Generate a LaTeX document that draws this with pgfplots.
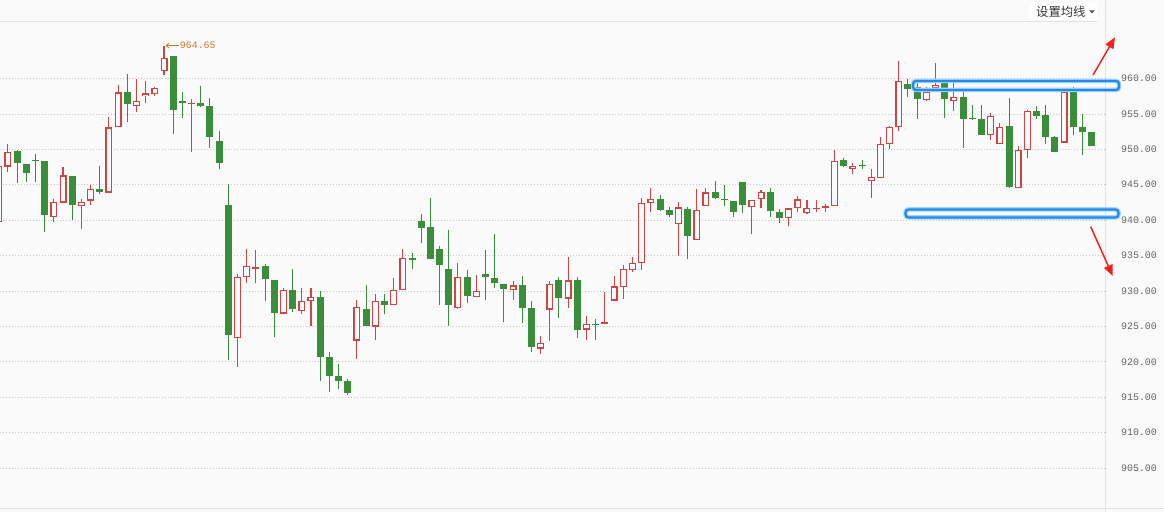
\documentclass[border=0pt]{standalone}
\usepackage{fontspec}
\usepackage{pgfplots}
\usepackage{pgfplotstable}
\pgfplotsset{compat=1.18}
\usetikzlibrary{arrows.meta}
\newfontfamily\monofont{Liberation Mono}
\newfontfamily\cjk{Noto Sans CJK SC}
\definecolor{bg}{RGB}{250,250,250}
\definecolor{cup}{RGB}{208,68,68}
\definecolor{cdown}{RGB}{58,142,58}
\definecolor{gridc}{RGB}{200,200,200}
\definecolor{framec}{RGB}{226,226,226}
\definecolor{tickc}{RGB}{100,100,100}
\definecolor{hl}{RGB}{30,140,235}
\definecolor{hlglow}{RGB}{170,210,250}
\definecolor{arrred}{RGB}{240,35,26}
\definecolor{annot}{RGB}{205,120,40}
\definecolor{headtext}{RGB}{51,51,51}
\definecolor{headtri}{RGB}{80,80,80}

% x o h l c  (rising candles, hollow red)
\pgfplotstableread{
x o h l c
0 939.70 948.00 939.50 947.65
1 947.56 950.75 946.85 949.67
6 940.38 942.96 939.80 942.54
7 942.49 947.56 942.40 946.34
9 941.97 943.00 938.78 942.63
10 942.77 944.98 942.07 944.37
12 943.90 954.50 943.90 953.10
13 953.10 959.06 953.10 958.03
15 956.06 960.00 955.20 956.85
16 957.46 959.60 956.50 957.89
17 957.75 958.80 957.60 958.73
18 961.08 964.65 960.56 962.96
21 956.39 957.04 949.67 956.57
26 923.38 932.39 919.30 931.97
27 931.97 935.96 931.13 933.52
28 933.10 935.73 931.13 933.38
31 926.78 930.42 926.78 930.14
33 927.20 930.42 926.78 928.60
34 928.60 930.42 925.05 929.16
39 922.99 928.79 920.37 927.76
41 924.95 929.63 923.08 928.60
43 927.99 931.82 927.99 930.14
44 930.14 935.93 930.14 934.63
50 927.57 933.97 927.43 931.96
52 929.16 932.24 929.16 930.00
56 930.14 931.40 928.74 930.79
59 921.87 923.69 921.10 922.71
60 927.35 931.34 922.93 931.00
62 928.90 934.86 927.58 931.48
64 924.53 926.41 923.03 925.38
66 925.33 929.83 925.30 925.60
67 928.62 932.18 928.60 930.63
68 930.59 933.73 928.85 933.12
69 932.98 934.86 932.65 933.97
70 933.97 943.08 932.98 942.42
71 942.42 944.53 941.10 942.98
74 939.46 942.50 935.00 941.80
76 937.20 944.39 937.20 941.43
77 942.00 944.53 942.00 943.92
82 941.85 942.84 938.05 942.84
83 942.98 944.25 941.67 943.97
86 940.30 941.67 939.13 941.67
87 941.71 943.40 941.10 942.93
88 940.96 942.89 940.90 941.71
89 941.60 942.89 941.10 941.71
90 941.71 942.32 941.10 942.04
91 942.00 949.90 942.00 948.40
93 947.29 948.05 946.45 947.67
95 945.46 947.25 943.06 946.07
96 945.93 951.67 945.90 950.73
97 950.73 953.32 950.02 953.13
98 953.13 962.49 952.52 959.62
101 956.99 958.78 956.85 958.12
102 958.64 962.16 958.60 959.06
104 956.80 959.44 955.39 957.36
108 952.00 955.11 951.34 954.73
109 950.73 953.69 950.73 953.13
111 944.47 950.40 944.47 949.88
112 949.88 955.58 948.75 955.39
116 950.96 958.07 950.96 958.07
}\up

% x o h l c  (falling candles, filled green)
\pgfplotstableread{
x o h l c
2 949.77 949.90 945.30 948.03
3 947.89 947.95 945.45 946.62
4 948.55 949.34 945.45 948.40
5 948.36 948.40 938.30 940.66
8 946.24 946.30 940.05 942.07
11 944.37 947.65 943.66 944.04
14 958.03 960.60 953.90 956.34
19 963.15 963.15 952.16 955.54
20 956.80 958.08 954.46 956.48
22 956.53 958.92 956.00 956.15
23 956.10 957.18 950.14 951.78
24 951.17 952.58 947.18 948.12
25 942.16 945.07 920.23 923.76
29 933.57 933.85 928.54 931.69
30 931.60 931.60 923.50 926.90
32 930.14 933.13 927.00 927.43
35 929.20 930.05 917.34 920.70
36 920.65 921.36 915.80 918.04
37 918.00 919.67 916.17 917.34
38 917.29 917.60 915.30 915.65
40 927.52 930.89 925.05 925.05
42 928.60 929.63 926.68 928.08
45 934.67 935.42 933.13 934.35
46 939.86 940.84 936.82 938.93
47 939.02 943.18 934.56 934.56
48 935.93 936.40 928.00 933.60
49 933.13 938.60 925.05 928.00
51 931.96 933.00 928.27 929.25
53 932.38 935.79 928.74 931.92
54 931.82 938.04 930.47 931.07
55 930.98 931.00 925.60 930.23
57 930.84 932.10 925.50 927.57
58 927.66 928.64 921.40 922.10
61 931.48 931.90 926.17 929.00
63 931.48 932.04 923.36 924.44
65 925.40 926.08 923.03 925.25
72 942.98 943.59 941.30 941.38
73 941.43 941.85 940.40 940.73
75 941.57 941.80 934.53 937.72
78 943.97 945.56 943.00 943.08
79 943.05 945.00 941.95 942.90
80 942.70 942.70 940.40 941.10
81 945.42 945.42 940.96 942.09
84 943.97 944.53 940.45 941.24
85 941.15 941.57 939.60 940.26
92 948.47 948.75 947.44 947.58
94 947.78 948.47 947.20 947.63
99 959.20 960.00 957.32 958.45
100 958.78 960.00 954.26 957.08
103 959.58 960.00 954.40 957.08
105 957.36 958.64 950.16 954.26
106 954.37 956.24 954.20 954.22
107 954.31 956.24 952.09 952.09
110 953.32 957.22 944.60 944.61
113 955.39 956.14 954.35 954.73
114 954.87 956.24 950.73 951.81
115 951.81 951.90 949.69 949.69
117 958.07 958.78 952.00 953.22
118 953.13 955.01 949.22 952.47
119 952.47 952.47 950.40 950.40
}\down

\begin{document}
\begin{tikzpicture}[x=1pt,y=1pt]
\fill[bg] (0,0) rectangle (1164,512);
\begin{axis}[
  at={(0pt,4pt)}, anchor=south west,
  scale only axis, width=1105pt, height=486.5pt,
  xmin=0.14, xmax=120.45, ymin=899.35, ymax=968.05,
  axis line style={draw=none},
  xtick=\empty,
  ytick={905,910,...,960},
  ytick pos=right, yticklabel pos=right,
  tick align=outside, major tick length=2pt,
  tick style={color=framec, line width=0.8pt},
  ymajorgrids,
  major grid style={line width=0.8pt, color=gridc, dash pattern=on 1pt off 2pt},
  yticklabel style={font=\fontsize{9.9}{10}\selectfont\monofont, text=tickc, anchor=west, inner sep=0pt, xshift=14pt},
  /pgf/number format/.cd, fixed, fixed zerofill, precision=2, 1000 sep={}, assume math mode=true,
]
% falling: wick + filled body
\addplot[draw=none, no markers, forget plot,
  error bars/.cd, y dir=plus, y explicit, error mark=none,
  error bar style={line width=1pt, draw=cdown, line cap=butt}]
  table[x=x, y=l, y error expr=\thisrow{h}-\thisrow{l}] {\down};
\addplot[draw=none, no markers, forget plot,
  error bars/.cd, y dir=plus, y explicit, error mark=none,
  error bar style={line width=7pt, draw=cdown, line cap=butt}]
  table[x=x, y=c, y error expr=\thisrow{o}-\thisrow{c}] {\down};
% rising: wick + hollow body
\addplot[draw=none, no markers, forget plot,
  error bars/.cd, y dir=plus, y explicit, error mark=none,
  error bar style={line width=1.1pt, draw=cup, line cap=butt}]
  table[x=x, y=l, y error expr=\thisrow{h}-\thisrow{l}] {\up};
\addplot[draw=none, no markers, forget plot,
  error bars/.cd, y dir=plus, y explicit, error mark=none,
  error bar style={line width=7pt, draw=cup, line cap=butt}]
  table[x=x, y=o, y error expr=\thisrow{c}-\thisrow{o}] {\up};
\addplot[draw=none, no markers, forget plot,
  error bars/.cd, y dir=plus, y explicit, error mark=none,
  error bar style={line width=4.5pt, draw=bg, line cap=butt}]
  table[x=x, y expr=\thisrow{o}+0.18, y error expr={max(\thisrow{c}-\thisrow{o}-0.36,0)}] {\up};
% high marker
\draw[annot, line width=0.8pt, {Straight Barb[length=3pt,width=5pt]}-] (axis cs:18,964.65) ++(1.5pt,0pt) -- ++(13.5pt,0pt)
  node[right, inner sep=0.5pt, font=\fontsize{9.9}{10}\selectfont\monofont, text=annot] {964.65};
\end{axis}
% frame lines
\draw[framec, line width=1pt] (0,490.5) -- (1097,490.5);
\draw[framec, line width=1pt] (1105.3,0) -- (1105.3,512);
\draw[framec, line width=1pt] (0,4) -- (1164,4);
% header
\fill[white] (1030,492) rectangle (1097,510);
\node[anchor=west, inner sep=0pt, font=\cjk\fontsize{12.3}{13}\selectfont, text=headtext] at (1036,500) {设置均线};
\fill[headtri] (1089.5,501.5) -- (1094.5,501.5) -- (1092,498.5) -- cycle;
% highlight boxes
\draw[hlglow, line width=4.5pt, rounded corners=3pt] (913,422) rectangle (1119,431);
\draw[hl, line width=2.2pt, rounded corners=3pt] (913,422) rectangle (1119,431);
\draw[hlglow, line width=4.5pt, rounded corners=3pt] (905.5,294.5) rectangle (1118.5,302.5);
\draw[hl, line width=2.2pt, rounded corners=3pt] (905.5,294.5) rectangle (1118.5,302.5);
% trend arrows
\draw[arrred, line width=1.5pt, -{Triangle[length=11pt,width=9pt]}] (1093,437) -- (1115,474.7);
\draw[arrred, line width=1.5pt, -{Triangle[length=11pt,width=9pt]}] (1090.7,285.3) -- (1112.7,236);
\pgfresetboundingbox
\path[use as bounding box] (0,0) rectangle (1164,512);
\end{tikzpicture}
\end{document}
